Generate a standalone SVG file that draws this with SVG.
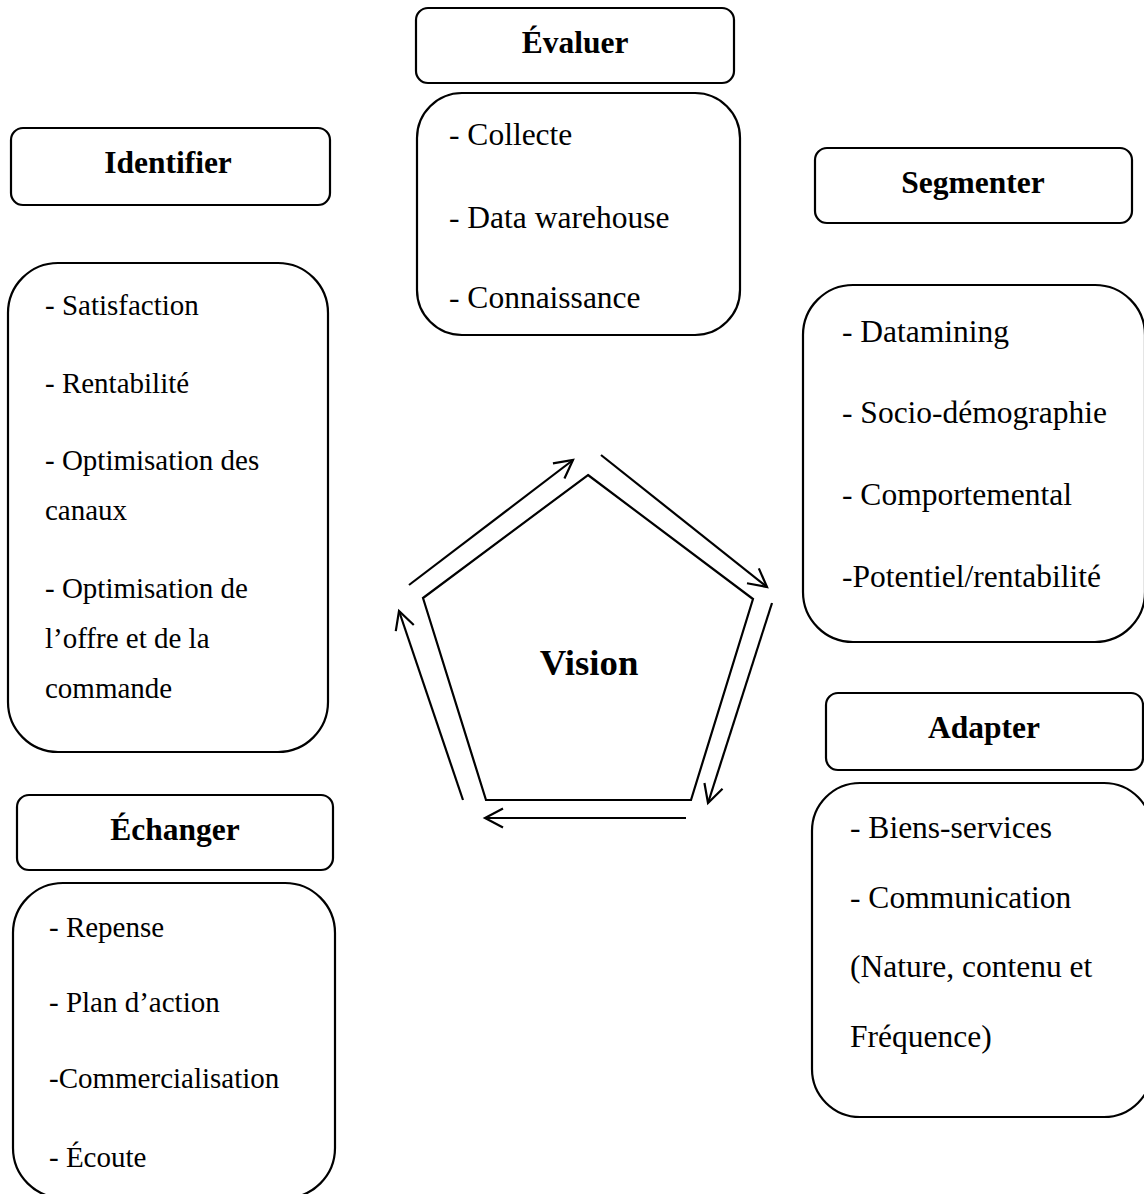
<svg xmlns="http://www.w3.org/2000/svg" width="1144" height="1194" viewBox="0 0 1144 1194">
  <style>
    .box { fill: #fff; stroke: #000; stroke-width: 2.2; }
    .head { font-family: "Liberation Serif", "Times New Roman", serif; font-weight: bold; font-size: 31.5px; text-anchor: middle; fill: #000; }
    .item { font-family: "Liberation Serif", "Times New Roman", serif; font-size: 31.5px; fill: #000; }
    .item-s { font-family: "Liberation Serif", "Times New Roman", serif; font-size: 29px; fill: #000; }
    .edge { fill: none; stroke: #000; stroke-width: 2.2; }
  </style>
  <defs>
    <marker id="open-arrow" markerUnits="userSpaceOnUse" markerWidth="30" markerHeight="30" viewBox="-22 -15 30 30" refX="0" refY="0" orient="auto">
      <path d="M-18,-9.5 L0,0 L-18,9.5" fill="none" stroke="#000" stroke-width="2.2"/>
    </marker>
  </defs>
  <rect width="1144" height="1194" fill="#fff"/>

  <!-- Évaluer -->
  <g id="evaluer">
    <rect class="box" x="416" y="8" width="318" height="75" rx="12"/>
    <text class="head" x="575" y="53">Évaluer</text>
    <rect class="box" x="417" y="93" width="323" height="242" rx="45"/>
    <text class="item" x="449" y="145">- Collecte</text>
    <text class="item" x="449" y="228">- Data warehouse</text>
    <text class="item" x="449" y="308">- Connaissance</text>
  </g>

  <!-- Identifier -->
  <g id="identifier">
    <rect class="box" x="11" y="128" width="319" height="77" rx="12"/>
    <text class="head" x="168" y="173">Identifier</text>
    <rect class="box" x="8" y="263" width="320" height="489" rx="50"/>
    <text class="item-s" x="45" y="315">- Satisfaction</text>
    <text class="item-s" x="45" y="393">- Rentabilité</text>
    <text class="item-s" x="45" y="470">- Optimisation des</text>
    <text class="item-s" x="45" y="520">canaux</text>
    <text class="item-s" x="45" y="598">- Optimisation de</text>
    <text class="item-s" x="45" y="648">l’offre et de la</text>
    <text class="item-s" x="45" y="698">commande</text>
  </g>

  <!-- Segmenter -->
  <g id="segmenter">
    <rect class="box" x="815" y="148" width="317" height="75" rx="12"/>
    <text class="head" x="973" y="193">Segmenter</text>
    <rect class="box" x="803" y="285" width="342" height="357" rx="50"/>
    <text class="item" x="842" y="342">- Datamining</text>
    <text class="item" x="842" y="423">- Socio-démographie</text>
    <text class="item" x="842" y="505">- Comportemental</text>
    <text class="item" x="842" y="587">-Potentiel/rentabilité</text>
  </g>

  <!-- Adapter -->
  <g id="adapter">
    <rect class="box" x="826" y="693" width="317" height="77" rx="12"/>
    <text class="head" x="984" y="738">Adapter</text>
    <rect class="box" x="812" y="783" width="340" height="334" rx="48"/>
    <text class="item" x="850" y="838">- Biens-services</text>
    <text class="item" x="850" y="908">- Communication</text>
    <text class="item" x="850" y="977">(Nature, contenu et</text>
    <text class="item" x="850" y="1047">Fréquence)</text>
  </g>

  <!-- Échanger -->
  <g id="echanger">
    <rect class="box" x="17" y="795" width="316" height="75" rx="12"/>
    <text class="head" x="175" y="840">Échanger</text>
    <rect class="box" x="13" y="883" width="322" height="315" rx="50"/>
    <text class="item-s" x="49" y="937">- Repense</text>
    <text class="item-s" x="49" y="1012">- Plan d’action</text>
    <text class="item-s" x="49" y="1088">-Commercialisation</text>
    <text class="item-s" x="49" y="1167">- Écoute</text>
  </g>

  <!-- Vision -->
  <g id="vision">
    <polygon class="box" points="588,475 753,599 691,800 486,800 423,598"/>
    <text class="head" x="589" y="675" style="font-size:36.75px">Vision</text>
  </g>

  <!-- cycle arrows around the pentagon -->
  <g id="connectors">
    <line class="edge" x1="463" y1="800" x2="399" y2="611" marker-end="url(#open-arrow)"/>
    <line class="edge" x1="409" y1="585" x2="573" y2="460" marker-end="url(#open-arrow)"/>
    <line class="edge" x1="601" y1="455" x2="767" y2="587" marker-end="url(#open-arrow)"/>
    <line class="edge" x1="772" y1="603" x2="708" y2="803" marker-end="url(#open-arrow)"/>
    <line class="edge" x1="686" y1="818" x2="485" y2="818" marker-end="url(#open-arrow)"/>
  </g>
</svg>
